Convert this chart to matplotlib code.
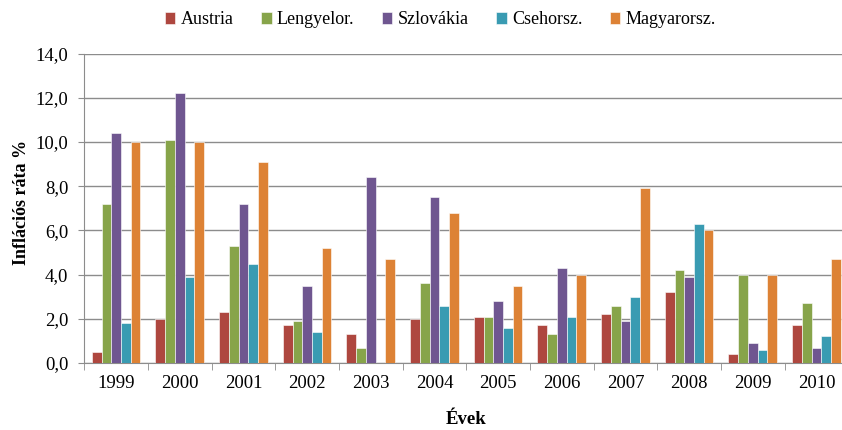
import numpy as np
import matplotlib.pyplot as plt
from matplotlib.ticker import MultipleLocator, FuncFormatter

years = ['1999', '2000', '2001', '2002', '2003', '2004', '2005', '2006', '2007', '2008', '2009', '2010']
countries = ['Austria', 'Lengyelor.', 'Szlovákia', 'Csehorsz.', 'Magyarorsz.']

austria = [0.5, 2.0, 2.3, 1.7, 1.3, 2.0, 2.1, 1.7, 2.2, 3.2, 0.4, 1.7]
lengyel = [7.2, 10.1, 5.3, 1.9, 0.7, 3.6, 2.1, 1.3, 2.6, 4.2, 4.0, 2.7]
szlovak = [10.4, 12.2, 7.2, 3.5, 8.4, 7.5, 2.8, 4.3, 1.9, 3.9, 0.9, 0.7]
cseh = [1.8, 3.9, 4.5, 1.4, 0.0, 2.6, 1.6, 2.1, 3.0, 6.3, 0.6, 1.2]
magyar = [10.0, 10.0, 9.1, 5.2, 4.7, 6.8, 3.5, 4.0, 7.9, 6.0, 4.0, 4.7]

series = [austria, lengyel, szlovak, cseh, magyar]
colors = ['#AE473F', '#87A44A', '#6F5690', '#399BB2', '#DD8235']

plt.rcParams['font.family'] = ['Liberation Serif', 'DejaVu Serif']

fig = plt.figure(figsize=(8.42, 4.30), dpi=100)
ax = fig.add_axes([84.3 / 842, 67 / 430, 764 / 842, 309.3 / 430])

x = np.arange(len(years))
w = 0.153
for i, (vals, col, name) in enumerate(zip(series, colors, countries)):
    ax.bar(x + (i - 2) * w, vals, w, color=col, label=name, zorder=3,
           edgecolor='white', linewidth=0.4)

ax.set_xlim(-0.5, len(years) - 0.5)
ax.set_ylim(0, 14)
ax.yaxis.set_major_locator(MultipleLocator(2))
ax.yaxis.set_major_formatter(FuncFormatter(lambda v, p: ('%.1f' % v).replace('.', ',')))
ax.grid(axis='y', color='#8c8c8c', linewidth=1.0, zorder=0)

ax.set_xticks(x)
ax.set_xticklabels(years)
ax.set_xticks(np.arange(-0.5, len(years)), minor=True)
ax.tick_params(axis='x', which='major', length=0, labelsize=13.5, pad=9)
ax.tick_params(axis='x', which='minor', length=5, color='#8c8c8c')
ax.tick_params(axis='y', length=4, color='#8c8c8c', labelsize=13.5, pad=7.5)

for s in ['top', 'right']:
    ax.spines[s].set_visible(False)
for s in ['left', 'bottom']:
    ax.spines[s].set_color('#8c8c8c')

ax.set_xlabel('Évek', fontsize=13.5, fontweight='bold', labelpad=13)
ax.set_ylabel('Inflációs ráta %', fontsize=13, fontweight='bold')
ax.yaxis.set_label_coords(-0.071, 0.52)

ax.legend(loc='upper center', bbox_to_anchor=(356 / 764, 1.19), ncol=5, frameon=False,
          fontsize=13, handlelength=0.6, handleheight=0.6, handletextpad=0.3, columnspacing=1.5)

fig.savefig('out.png', dpi=100)
